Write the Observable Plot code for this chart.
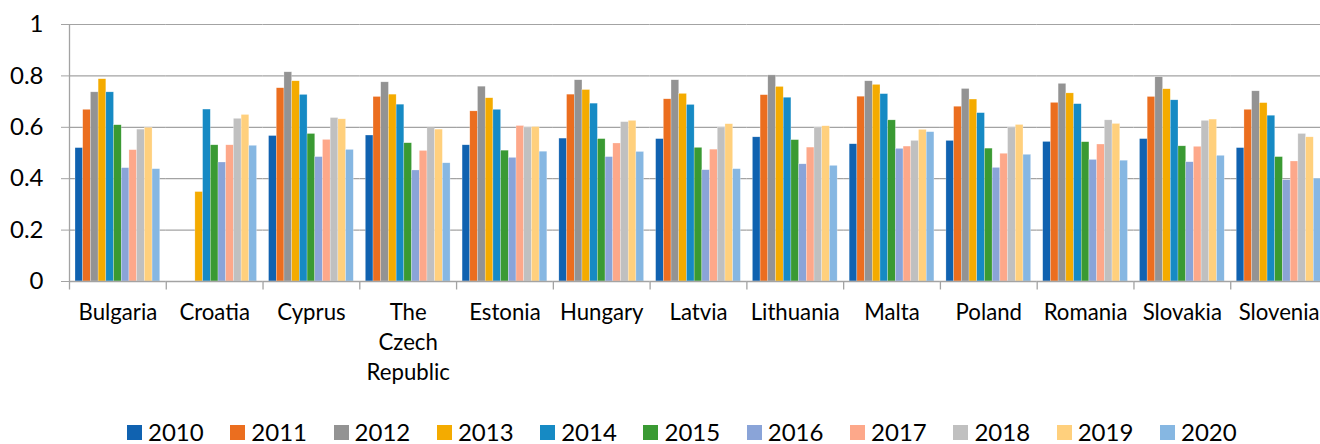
<!DOCTYPE html>
<html>
<head>
<meta charset="utf-8">
<script src="https://cdn.jsdelivr.net/npm/d3@7"></script>
<script src="https://cdn.jsdelivr.net/npm/@observablehq/plot@0.6"></script>
<style>
  html, body { margin: 0; padding: 0; background: #fff; overflow: hidden; }
  #wrap { position: relative; width: 1330px; height: 444px; }
  #legend { position: absolute; left: 127px; top: 424px; display: flex; font-family: Lato, sans-serif; font-size: 24px; color: #000; }
  .item { width: 103.3px; height: 16px; display: flex; align-items: center; }
  .sw { width: 15px; height: 15px; margin-right: 6px; flex: none; }
  .lab { line-height: 16px; white-space: nowrap; }
</style>
</head>
<body>
<div id="wrap"><div id="chart"></div><div id="legend"></div></div>
<script>
const countries = ["Bulgaria","Croatia","Cyprus","The Czech Republic","Estonia","Hungary","Latvia","Lithuania","Malta","Poland","Romania","Slovakia","Slovenia"];
const years = ["2010","2011","2012","2013","2014","2015","2016","2017","2018","2019","2020"];
const colors = ["#1062b0","#eb6e1f","#939393","#f4ab00","#168ac4","#3a9a33","#8aa4d8","#fda88a","#c0c0c0","#ffd07d","#86b7e2"];
const yTicks = [0, 0.2, 0.4, 0.6, 0.8, 1];

const bulgaria  = [0.519,0.668,0.736,0.787,0.736,0.608,0.441,0.511,0.591,0.598,0.437];
const croatia   = [null,null,null,0.348,0.669,0.530,0.463,0.530,0.633,0.648,0.528];
const cyprus    = [0.566,0.752,0.814,0.779,0.726,0.574,0.484,0.551,0.636,0.631,0.512];
const czech     = [0.568,0.718,0.775,0.727,0.688,0.538,0.432,0.508,0.596,0.591,0.460];
const estonia   = [0.530,0.662,0.758,0.713,0.668,0.509,0.481,0.605,0.599,0.601,0.505];
const hungary   = [0.556,0.727,0.783,0.745,0.692,0.554,0.484,0.537,0.620,0.625,0.504];
const latvia    = [0.554,0.709,0.783,0.730,0.687,0.520,0.433,0.513,0.598,0.612,0.437];
const lithuania = [0.561,0.725,0.802,0.757,0.715,0.550,0.456,0.521,0.599,0.604,0.450];
const malta     = [0.534,0.719,0.779,0.765,0.729,0.627,0.516,0.525,0.547,0.590,0.581];
const poland    = [0.547,0.680,0.749,0.708,0.655,0.517,0.442,0.497,0.599,0.609,0.493];
const romania   = [0.543,0.695,0.769,0.732,0.690,0.542,0.473,0.533,0.627,0.613,0.470];
const slovakia  = [0.554,0.718,0.795,0.748,0.705,0.526,0.464,0.524,0.625,0.630,0.489];
const slovenia  = [0.519,0.668,0.740,0.694,0.645,0.484,0.394,0.467,0.574,0.561,0.400];

const series = [bulgaria, croatia, cyprus, czech, estonia, hungary, latvia, lithuania, malta, poland, romania, slovakia, slovenia];

const data = [];
countries.forEach((c, i) => {
  years.forEach((y, j) => {
    const v = series[i][j];
    if (v != null) data.push({country: c, year: y, value: v});
  });
});

const W = 1330, H = 400, mL = 69, mR = 3, mT = 24, mB = 119;
const padOuter = 0.78;
const facetW = (W - mL - mR) / countries.length;
const step = facetW / (years.length + 2 * padOuter);
const boundaryShift = (0.5 + padOuter) * step;
const boundaries = countries.map((c, i) => ({country: c, top: i === 0 ? 1 : 0}));

const chart = Plot.plot({
  width: W, height: H,
  marginLeft: mL, marginRight: mR, marginTop: mT, marginBottom: mB,
  style: {fontFamily: "Lato, sans-serif", color: "#000", background: "white", maxWidth: "none", overflow: "visible"},
  fx: {domain: countries, padding: 0, round: false, axis: null, label: null},
  x: {domain: years, paddingInner: 0, paddingOuter: padOuter, round: false, axis: null},
  y: {domain: [0, 1], axis: null},
  color: {domain: years, range: colors},
  marks: [
    Plot.gridY(yTicks.slice(1), {stroke: "#a3a3a3", strokeOpacity: 1, strokeWidth: 1.2}),
    Plot.barY(data, {fx: "country", x: "year", y: "value", fill: "year", stroke: "white", strokeWidth: 0.5, strokeOpacity: 0.5}),
    Plot.ruleY([0], {stroke: "#a3a3a3", strokeWidth: 1.3}),
    Plot.ruleX(boundaries, {fx: "country", x: () => years[0], y1: "top", y2: -0.033, dx: -boundaryShift, stroke: "#a3a3a3", strokeWidth: 1.3}),
    Plot.axisY({ticks: yTicks, tickSize: 8, tickPadding: 18, fontSize: 24, tickFormat: d => String(d), stroke: "#a3a3a3", label: null}),
    Plot.axisFx({anchor: "bottom", tickSize: 0, tickPadding: 17, fontSize: 22.2, lineHeight: 1.36, tickFormat: d => d.replace(/ /g, "\n"), label: null})
  ]
});
document.getElementById("chart").appendChild(chart);

const legend = document.getElementById("legend");
years.forEach((y, i) => {
  const item = document.createElement("div");
  item.className = "item";
  const sw = document.createElement("span");
  sw.className = "sw";
  sw.style.background = colors[i];
  const lab = document.createElement("span");
  lab.className = "lab";
  lab.textContent = y;
  item.appendChild(sw);
  item.appendChild(lab);
  legend.appendChild(item);
});
</script>
</body>
</html>
